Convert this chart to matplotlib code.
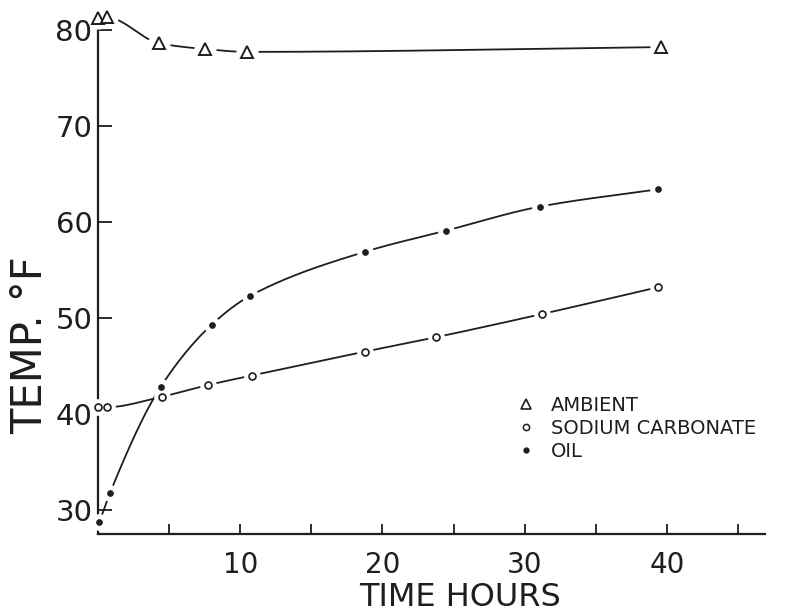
import numpy as np
import matplotlib.pyplot as plt
from matplotlib.lines import Line2D

# readings, temperature in deg F against elapsed time in hours
ambient_hours = [0.0, 0.6, 4.3, 7.5, 10.5, 39.6]
ambient_temp = [81.2, 81.3, 78.6, 78.0, 77.7, 78.2]

soda_hours = [0.0, 0.6, 4.5, 7.7, 10.8, 18.8, 23.8, 31.2, 39.4]
soda_temp = [40.7, 40.7, 41.8, 43.0, 44.0, 46.5, 48.0, 50.4, 53.2]

oil_hours = [0.1, 0.85, 4.4, 8.0, 10.7, 18.8, 24.5, 31.1, 39.4]
oil_temp = [28.75, 31.8, 42.8, 49.3, 52.3, 56.9, 59.1, 61.6, 63.4]

x_ticks = [5, 10, 15, 20, 25, 30, 35, 40, 45]
x_tick_labels = ["", "10", "", "20", "", "30", "", "40", ""]
y_ticks = [30, 40, 50, 60, 70, 80]
y_tick_labels = ["30", "40", "50", "60", "70", "80"]

legend_labels = ["AMBIENT", "SODIUM CARBONATE", "OIL"]

INK = "#1e1e1e"


def smooth_path(xs, ys, n=400):
    # monotone cubic (Fritsch-Carlson) curve through the readings, for the drawn line only
    x = np.asarray(xs, float)
    y = np.asarray(ys, float)
    h = np.diff(x)
    d = np.diff(y) / h
    m = np.zeros_like(y)
    m[0], m[-1] = d[0], d[-1]
    for i in range(1, len(x) - 1):
        if d[i - 1] * d[i] <= 0:
            m[i] = 0.0
        else:
            w1 = 2 * h[i] + h[i - 1]
            w2 = h[i] + 2 * h[i - 1]
            m[i] = (w1 + w2) / (w1 / d[i - 1] + w2 / d[i])
    xx = np.linspace(x[0], x[-1], n)
    k = np.clip(np.searchsorted(x, xx) - 1, 0, len(x) - 2)
    t = (xx - x[k]) / h[k]
    h00 = 2 * t**3 - 3 * t**2 + 1
    h10 = t**3 - 2 * t**2 + t
    h01 = -2 * t**3 + 3 * t**2
    h11 = t**3 - t**2
    yy = h00 * y[k] + h10 * h[k] * m[k] + h01 * y[k + 1] + h11 * h[k] * m[k + 1]
    return xx, yy


fig = plt.figure(figsize=(8.06, 6.12), dpi=100)
ax = fig.add_axes([98 / 806, 78 / 612, 667 / 806, 509 / 612])

series = [
    (ambient_hours, ambient_temp, dict(marker="^", ms=9, mfc="white", mec=INK, mew=1.4), 15),
    (soda_hours, soda_temp, dict(marker="o", ms=5, mfc="white", mec=INK, mew=1.2), 11),
    (oil_hours, oil_temp, dict(marker="o", ms=4, mfc=INK, mec=INK, mew=0.8), 11),
]

for hours, temp, style, halo in series:
    xx, yy = smooth_path(hours, temp)
    ax.plot(xx, yy, color=INK, lw=1.3, zorder=2, clip_on=False)
    # white halo leaves the small break in the line around each point
    ax.plot(hours, temp, ls="none", marker="o", ms=halo, mfc="white", mec="white", zorder=3, clip_on=False)
    ax.plot(hours, temp, ls="none", zorder=4, clip_on=False, **style)

ax.set_xlim(0, 46.9)
ax.set_ylim(27.5, 80.5)

for side in ["top", "right"]:
    ax.spines[side].set_visible(False)
for side in ["left", "bottom"]:
    ax.spines[side].set_color(INK)
    ax.spines[side].set_linewidth(1.6)

ax.set_xticks(x_ticks)
ax.set_xticklabels(x_tick_labels)
ax.set_yticks(y_ticks)
ax.set_yticklabels(y_tick_labels)
ax.tick_params(axis="x", direction="in", length=7, width=1.3, color=INK, pad=12, labelsize=20, labelcolor=INK)
ax.tick_params(axis="y", direction="in", length=10, width=1.3, color=INK, pad=4, labelsize=21, labelcolor=INK)

fig.text(460 / 806, 1 - 598 / 612, "TIME HOURS", ha="center", va="center", fontsize=23, color=INK)
fig.text(30 / 806, 1 - 345 / 612, "TEMP. °F", ha="center", va="center", rotation=90, fontsize=30, color=INK)

handles = [
    Line2D([], [], ls="none", marker="^", ms=7, mfc="white", mec=INK, mew=1.2),
    Line2D([], [], ls="none", marker="o", ms=4.5, mfc="white", mec=INK, mew=1.1),
    Line2D([], [], ls="none", marker="o", ms=3.5, mfc=INK, mec=INK),
]
ax.legend(handles, legend_labels, loc="upper left", bbox_to_anchor=(418 / 667, 1 - (396 - 25) / 509),
          frameon=False, fontsize=14, handlelength=1.0, handletextpad=0.8, labelspacing=0.2,
          borderaxespad=0, borderpad=0, labelcolor=INK)

fig.savefig("out.png", dpi=100)
